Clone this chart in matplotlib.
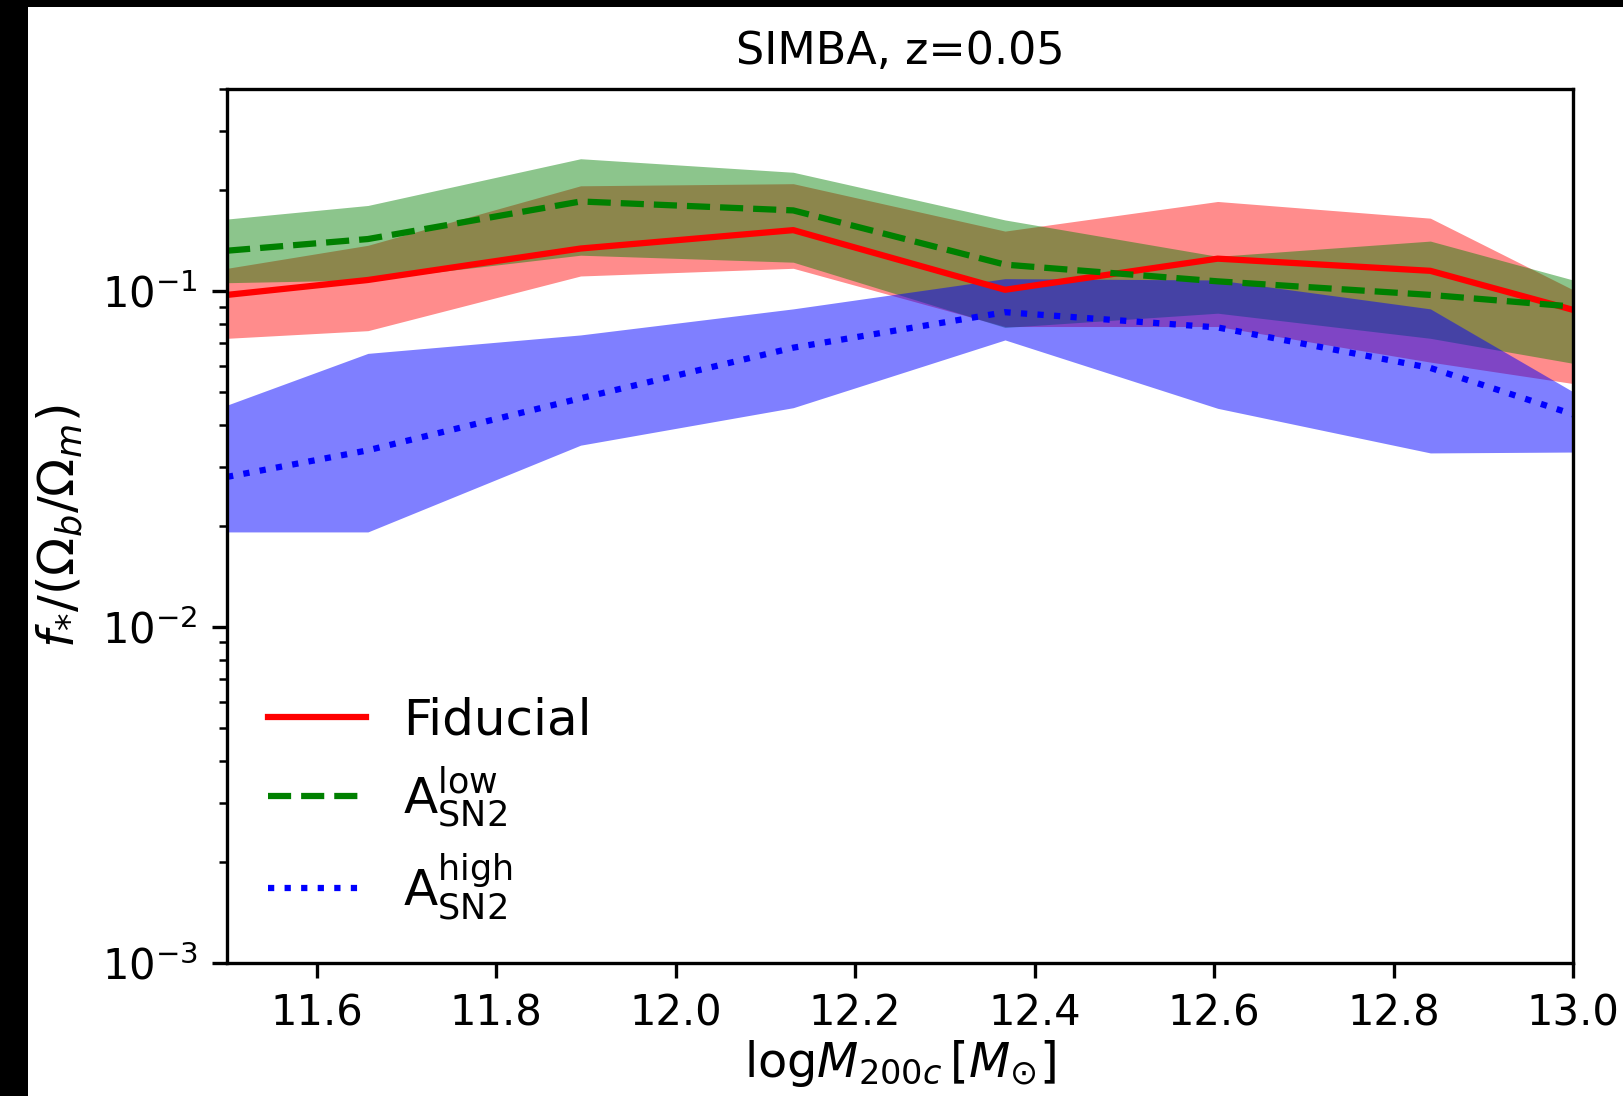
import matplotlib
matplotlib.use('Agg')
import matplotlib.pyplot as plt
from matplotlib.patches import Rectangle

# halo mass bins (log M200c), clipped to the plotted range at the edges
log_m = [11.5, 11.657, 11.894, 12.131, 12.367, 12.604, 12.841, 13.0]

# fiducial
fid_med = [0.0975, 0.108, 0.134, 0.152, 0.101, 0.125, 0.115, 0.088]
fid_lo = [0.0724, 0.0763, 0.111, 0.117, 0.0785, 0.0785, 0.0615, 0.0531]
fid_hi = [0.117, 0.137, 0.206, 0.209, 0.151, 0.185, 0.165, 0.101]

# A_SN2 low
low_med = [0.132, 0.143, 0.185, 0.174, 0.120, 0.107, 0.0975, 0.090]
low_lo = [0.106, 0.108, 0.128, 0.122, 0.078, 0.086, 0.0724, 0.061]
low_hi = [0.164, 0.180, 0.248, 0.226, 0.163, 0.127, 0.141, 0.108]

# A_SN2 high
high_med = [0.028, 0.0336, 0.048, 0.0679, 0.0866, 0.078, 0.0591, 0.043]
high_lo = [0.0192, 0.0192, 0.0348, 0.045, 0.0716, 0.0448, 0.0330, 0.0332]
high_hi = [0.0458, 0.0653, 0.0741, 0.0886, 0.109, 0.108, 0.0886, 0.0502]

labels = ['Fiducial', r'A$^{\rm low}_{\rm SN2}$', r'A$^{\rm high}_{\rm SN2}$']

fig = plt.figure(figsize=(1623 / 300, 1096 / 300), dpi=300)
fig.patch.set_facecolor('black')
fig.add_artist(Rectangle((28 / 1623, 0), 1, 1 - 7 / 1096, transform=fig.transFigure,
                         facecolor='white', edgecolor='none', zorder=0))

ax = fig.add_axes([0.1399, 0.1214, 0.8293, 0.7974])

ax.fill_between(log_m, fid_lo, fid_hi, color='red', alpha=0.45, lw=0)
ax.fill_between(log_m, low_lo, low_hi, color='green', alpha=0.45, lw=0)
ax.fill_between(log_m, high_lo, high_hi, color='blue', alpha=0.5, lw=0)

ax.plot(log_m, fid_med, color='red', ls='-', lw=1.5, label=labels[0])
ax.plot(log_m, low_med, color='green', ls='--', lw=1.5, label=labels[1])
ax.plot(log_m, high_med, color='blue', ls=':', lw=1.5, label=labels[2])

ax.set_yscale('log')
ax.set_xlim(11.5, 13.0)
ax.set_ylim(1e-3, 0.4)

ax.set_xlabel(r'$\mathrm{log}M_{200c}\,[M_{\odot}]$', fontsize=11.5, labelpad=1)
ax.set_ylabel(r'$f_{*}/(\Omega_b/\Omega_m)$', fontsize=12)
ax.set_title('SIMBA, z=0.05', fontsize=10.7)

ax.legend(loc='lower left', frameon=False, fontsize=12, labelspacing=0.42,
          borderaxespad=0.42, handletextpad=0.75, handlelength=1.95)

fig.savefig('out.png', dpi=300, facecolor=fig.get_facecolor())
